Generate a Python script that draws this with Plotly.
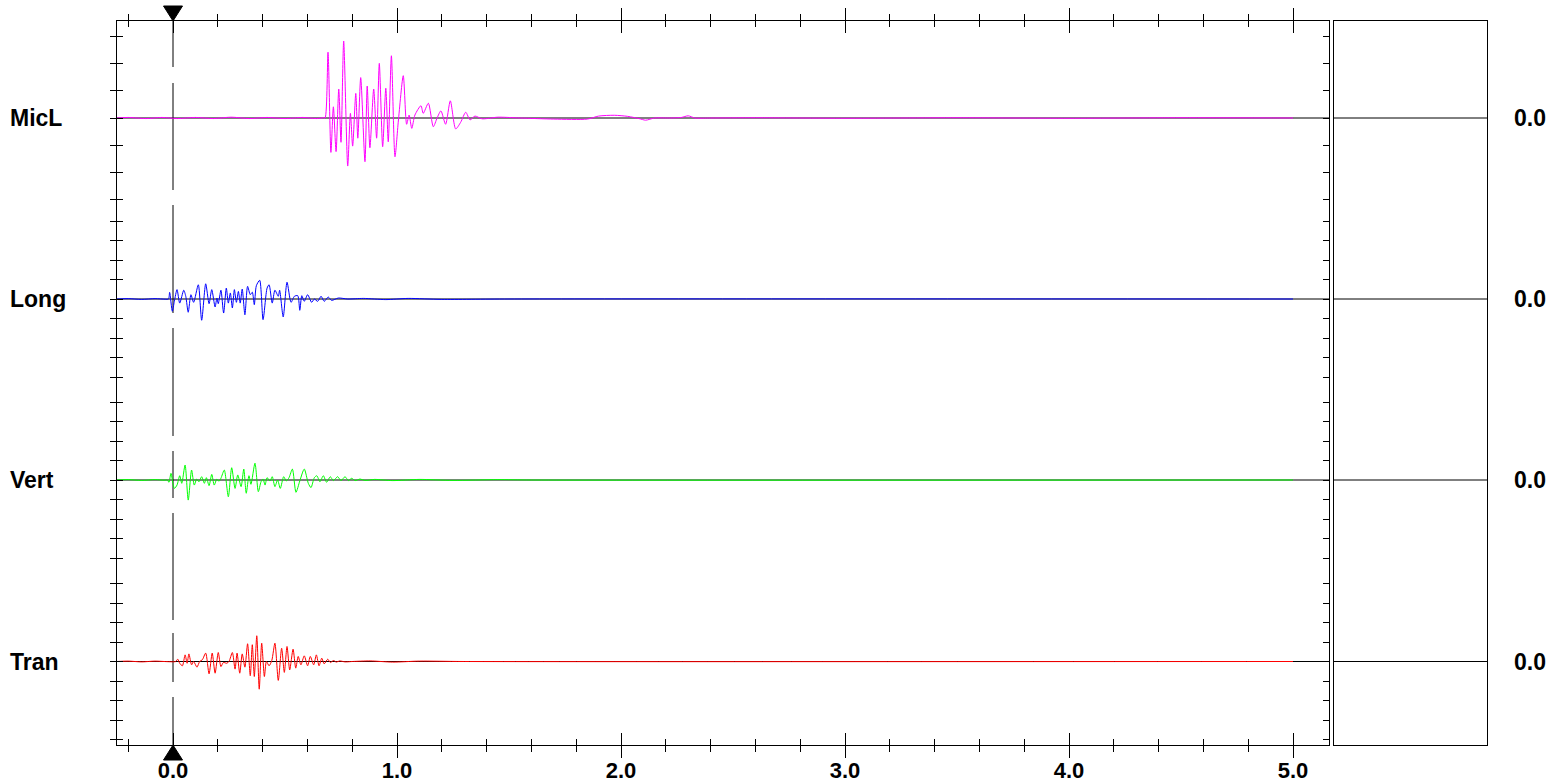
import plotly.graph_objects as go

# ---------------- data ----------------
CHANNELS = ["MicL", "Long", "Vert", "Tran"]
COLORS = ["#ff00ff", "#0000ff", "#00ff00", "#ff0000"]
ZERO_LABELS = ["0.0", "0.0", "0.0", "0.0"]
X_TICKS = [0, 1, 2, 3, 4, 5]
X_TICK_LABELS = ["0.0", "1.0", "2.0", "3.0", "4.0", "5.0"]
X_MINOR = [-0.2, 0.2, 0.4, 0.6, 0.8, 1.2, 1.4, 1.6, 1.8, 2.2, 2.4, 2.6, 2.8,
           3.2, 3.4, 3.6, 3.8, 4.2, 4.4, 4.6, 4.8]
TRIGGER_T = 0.0

# amplitudes in divisions of each channel's own scale
micl_t = [-0.25, -0.20, -0.12, -0.05, 0.02, 0.10, 0.18, 0.26, 0.34, 0.42, 0.50,
          0.58, 0.64, 0.672, 0.679, 0.692, 0.705, 0.716, 0.728, 0.740, 0.750,
          0.762, 0.780, 0.792, 0.802, 0.816, 0.825, 0.838, 0.857, 0.867, 0.879,
          0.896, 0.909, 0.921, 0.936, 0.950, 0.961, 0.975, 0.991, 1.006, 1.028,
          1.043, 1.054, 1.066, 1.080, 1.107, 1.117, 1.140, 1.162, 1.179, 1.196,
          1.217, 1.238, 1.262, 1.284, 1.307, 1.326, 1.348, 1.38, 1.45, 1.55,
          1.70, 1.85, 1.90, 1.97, 2.03, 2.08, 2.11, 2.15, 2.22, 2.27, 2.30, 2.33,
          2.40, 2.60, 3.00, 3.50, 4.00, 4.50, 5.0]
micl_a = [0.0, 0.02, -0.02, 0.02, -0.02, 0.02, -0.02, 0.03, -0.02, 0.02, -0.02,
          0.02, -0.02, 0.01, 0.0, 2.41, -1.26, 0.41, -1.23, 1.06, -0.89,
          2.82, -1.76, 0.17, -1.03, 0.90, -0.74, 1.48, -1.60, 1.17, -1.09,
          1.06, -0.74, 2.00, -1.05, 1.09, -0.87, 2.28, -1.42, -0.11, 1.55,
          -0.23, 0.11, -0.38, 0.11, 0.45, 0.17, 0.54, -0.32, 0.0, 0.26,
          -0.23, 0.63, -0.40, -0.16, 0.21, -0.07, 0.07, -0.03, 0.03, 0.0,
          -0.04, -0.04, 0.07, 0.10, 0.06, -0.02, -0.08, 0.0, 0.0, 0.02, 0.08, 0.0,
          0.0, 0.01, -0.01, 0.01, -0.01, 0.01, 0.0]

long_t = [-0.25, -0.20, -0.14, -0.08, -0.035, -0.020, -0.015, -0.003, 0.006, 0.018,
          0.030, 0.048, 0.057, 0.068, 0.080, 0.092, 0.113, 0.128, 0.146, 0.161,
          0.173, 0.188, 0.196, 0.202, 0.214, 0.226, 0.238, 0.247, 0.256, 0.265,
          0.274, 0.283, 0.292, 0.300, 0.309, 0.321, 0.333, 0.345, 0.354, 0.363,
          0.372, 0.387, 0.402, 0.420, 0.429, 0.443, 0.455, 0.470, 0.476, 0.492,
          0.509, 0.527, 0.542, 0.557, 0.566, 0.575, 0.586, 0.601, 0.619, 0.631,
          0.646, 0.661, 0.675, 0.693, 0.708, 0.738, 0.78, 0.85, 0.95, 1.05,
          1.20, 1.50, 5.0]
long_a = [0.0, 0.02, -0.02, 0.02, -0.01, 0.0, 0.34, -0.63, -0.12, 0.48,
          -0.21, 0.45, 0.14, -0.68, 0.22, -0.17, 0.73, -1.09, 0.78, -0.24,
          0.48, -0.41, 0.05, -0.24, 0.45, -0.72, 0.56, -0.21, 0.31, -0.46,
          0.48, -0.17, 0.39, -0.21, 0.51, -0.81, 0.65, 0.22, 0.35, -0.29,
          0.68, 0.96, -1.06, 0.56, 0.73, -0.21, 0.45, 0.14, 0.45, -0.92,
          0.86, -0.17, 0.14, 0.17, -0.58, 0.17, -0.12, 0.22, -0.17, 0.0,
          -0.12, 0.14, -0.12, 0.10, -0.07, 0.05, 0.0, 0.03, -0.03, 0.03,
          -0.02, 0.0, 0.0]

vert_t = [-0.25, -0.20, -0.14, -0.08, -0.04, -0.025, -0.018, -0.009, 0.006, 0.018,
          0.030, 0.039, 0.054, 0.068, 0.083, 0.095, 0.106, 0.116, 0.128, 0.140,
          0.149, 0.161, 0.173, 0.184, 0.196, 0.205, 0.214, 0.229, 0.247, 0.262,
          0.277, 0.289, 0.304, 0.316, 0.327, 0.339, 0.348, 0.366, 0.381, 0.393,
          0.402, 0.411, 0.420, 0.433, 0.443, 0.455, 0.467, 0.479, 0.494, 0.506,
          0.518, 0.533, 0.549, 0.566, 0.586, 0.604, 0.616, 0.631, 0.642, 0.656,
          0.671, 0.686, 0.702, 0.716, 0.735, 0.750, 0.768, 0.783, 0.798, 0.813,
          0.835, 0.857, 0.90, 0.98, 1.10, 1.25, 1.45, 1.60, 5.0]
vert_a = [0.0, 0.02, -0.02, 0.02, -0.01, 0.0, -0.12, 0.34, -0.43, -0.26,
          0.22, -0.17, 0.77, -1.03, 0.51, -0.26, 0.05, -0.09, 0.17, -0.17,
          0.12, -0.29, 0.29, -0.26, 0.05, -0.07, 0.09, 0.51, -0.86, 0.63,
          -0.43, 0.26, -0.34, 0.56, -0.68, 0.22, -0.22, 0.86, -0.60, -0.09,
          0.05, -0.26, 0.12, -0.05, 0.17, -0.34, 0.0, -0.43, 0.17, -0.05,
          0.12, 0.56, -0.63, -0.05, 0.56, -0.17, -0.39, 0.12, 0.22, -0.09,
          0.22, -0.12, 0.17, -0.03, 0.17, -0.03, 0.17, -0.03, 0.09, -0.03,
          0.05, -0.02, 0.03, -0.03, 0.03, -0.02, 0.02, 0.0, 0.0]

tran_t = [-0.25, -0.20, -0.14, -0.08, -0.02, 0.012, 0.021, 0.030, 0.042, 0.054,
          0.063, 0.071, 0.083, 0.092, 0.107, 0.119, 0.131, 0.146, 0.161, 0.175,
          0.188, 0.202, 0.214, 0.225, 0.240, 0.250, 0.265, 0.277, 0.286, 0.298,
          0.309, 0.321, 0.333, 0.345, 0.354, 0.363, 0.374, 0.385, 0.396, 0.408,
          0.417, 0.429, 0.441, 0.455, 0.470, 0.485, 0.497, 0.509, 0.521, 0.536,
          0.548, 0.559, 0.571, 0.586, 0.601, 0.613, 0.628, 0.640, 0.652, 0.664,
          0.675, 0.691, 0.702, 0.717, 0.729, 0.744, 0.768, 0.80, 0.88, 0.98,
          1.10, 1.30, 5.0]
tran_a = [0.0, 0.02, -0.02, 0.02, -0.01, 0.0, 0.12, -0.09, -0.22, 0.34,
          -0.09, 0.39, -0.17, 0.0, -0.29, 0.0, 0.09, 0.43, -0.63, 0.43,
          -0.60, 0.46, -0.26, -0.05, -0.09, 0.0, 0.46, -0.39, 0.43, -0.60,
          0.39, -0.29, 0.91, -0.73, 0.86, -0.77, 1.32, -1.42, 0.94, -0.77,
          0.0, -0.22, 0.05, 0.94, -0.97, 0.68, -0.56, 0.77, -0.43, 0.63,
          -0.34, 0.26, -0.17, 0.29, -0.22, 0.26, -0.17, 0.34, -0.22, 0.17,
          -0.12, 0.12, -0.05, 0.05, -0.03, 0.03, -0.02, 0.0, 0.03, -0.03,
          0.02, 0.0, 0.0]

SERIES_T = [micl_t, long_t, vert_t, tran_t]
SERIES_A = [micl_a, long_a, vert_a, tran_a]

# ---------------- layout / style ----------------
W, H = 1546, 783
ML, MR, MT, MB = 117, 59, 21, 38
PLOT_H = H - MT - MB                 # 724 px, y units == px
X_RANGE = [-0.25, 5.1607]
CH_ZERO = [627.0, 446.0, 265.0, 83.5]  # baseline of each channel (y units)
DIV_SIZE = [27.3, 19.5, 19.5, 19.5]    # size of one division (y units)
DIV_COUNT = [3, 4, 4, 4]
MAIN_DOMAIN = [0.0, 0.88467]
PANEL_DOMAIN = [0.88832, 1.0]
FONT = "Liberation Sans, Arial, sans-serif"
FS = 23
FS_TICK = 22
TRI_W, TRI_H = 19, 15

y_ticks = []
for z, d, n in zip(CH_ZERO, DIV_SIZE, DIV_COUNT):
    for k in range(-n, n + 1):
        y_ticks.append(z + k * d)

fig = go.Figure()

# baselines in main plot and side panel
for z in CH_ZERO:
    fig.add_trace(go.Scatter(x=X_RANGE, y=[z, z], mode="lines",
                             line=dict(color="black", width=1),
                             hoverinfo="skip", xaxis="x", yaxis="y"))
    fig.add_trace(go.Scatter(x=[0, 1], y=[z, z], mode="lines",
                             line=dict(color="black", width=1),
                             hoverinfo="skip", xaxis="x2", yaxis="y2"))

# trigger dashed line
fig.add_trace(go.Scatter(
    x=[TRIGGER_T, TRIGGER_T], y=[PLOT_H, 0], mode="lines",
    line=dict(color="black", width=1,
              dash="46px,16px,107px,15px,108px,15px,108px,15px,47px,15px,107px,13px,49px,15px,48px"),
    hoverinfo="skip"))

# signals
for name, col, ts, amps, z, d in zip(CHANNELS, COLORS, SERIES_T, SERIES_A, CH_ZERO, DIV_SIZE):
    fig.add_trace(go.Scatter(
        x=ts, y=[z + a * d for a in amps], mode="lines", name=name,
        line=dict(color=col, width=1, shape="spline", smoothing=0.7),
        hoverinfo="skip"))

# dummy traces so overlay axes render
fig.add_trace(go.Scatter(x=[], y=[], xaxis="x3", yaxis="y"))
fig.add_trace(go.Scatter(x=[], y=[], xaxis="x4", yaxis="y"))
fig.add_trace(go.Scatter(x=[], y=[], xaxis="x", yaxis="y3"))

axis_common = dict(showgrid=False, zeroline=False, showline=True, automargin=False,
                   linecolor="black", linewidth=1, tickcolor="black", tickwidth=1)
minor_out = dict(tickmode="array", tickvals=X_MINOR, ticks="outside",
                 ticklen=6, tickcolor="black", tickwidth=1, showgrid=False)
minor_in = dict(tickmode="array", tickvals=X_MINOR, ticks="inside",
                ticklen=6, tickcolor="black", tickwidth=1, showgrid=False)

fig.update_layout(
    template="none",
    width=W, height=H, autosize=False,
    margin=dict(l=ML, r=MR, t=MT, b=MB, pad=0, autoexpand=False),
    paper_bgcolor="white", plot_bgcolor="white",
    showlegend=False,
    font=dict(family=FONT, color="black"),
    # labelled axis: short outward ticks so labels sit close to the frame
    xaxis=dict(domain=MAIN_DOMAIN, range=X_RANGE, anchor="y",
               tickmode="array", tickvals=X_TICKS, ticktext=X_TICK_LABELS,
               ticks="outside", ticklen=6, mirror="ticks",
               tickfont=dict(family=FONT, size=FS_TICK, weight="bold", color="black"),
               minor=minor_out, **axis_common),
    # long outward major ticks
    xaxis4=dict(domain=MAIN_DOMAIN, range=X_RANGE, anchor="y", overlaying="x",
                tickmode="array", tickvals=X_TICKS, showticklabels=False,
                ticks="outside", ticklen=12, mirror="ticks", **axis_common),
    # inward ticks (major + minor)
    xaxis3=dict(domain=MAIN_DOMAIN, range=X_RANGE, anchor="y", overlaying="x",
                tickmode="array", tickvals=X_TICKS, showticklabels=False,
                ticks="inside", ticklen=12, mirror="ticks",
                minor=minor_in, **axis_common),
    yaxis=dict(domain=[0, 1], range=[0, PLOT_H], anchor="x",
               tickmode="array", tickvals=y_ticks, showticklabels=False,
               ticks="outside", ticklen=6, mirror=True, **axis_common),
    yaxis3=dict(domain=[0, 1], range=[0, PLOT_H], anchor="x", overlaying="y",
                tickmode="array", tickvals=y_ticks, showticklabels=False,
                ticks="inside", ticklen=6, mirror="ticks", **axis_common),
    xaxis2=dict(domain=PANEL_DOMAIN, range=[0, 1], anchor="y2",
                showticklabels=False, ticks="", mirror=True, **axis_common),
    yaxis2=dict(domain=[0, 1], range=[0, PLOT_H], anchor="x2",
                showticklabels=False, ticks="", mirror=True, **axis_common),
)

# trigger triangles (fixed pixel size, anchored at the trigger time)
half = TRI_W / 2
fig.add_shape(type="path", xref="x", yref="paper", xsizemode="pixel", ysizemode="pixel",
              xanchor=TRIGGER_T, yanchor=1,
              path=f"M {-half} {TRI_H} L {half} {TRI_H} L 0 0 Z",
              fillcolor="black", line=dict(color="black", width=1))
fig.add_shape(type="path", xref="x", yref="paper", xsizemode="pixel", ysizemode="pixel",
              xanchor=TRIGGER_T, yanchor=0,
              path=f"M {-half} {-TRI_H} L {half} {-TRI_H} L 0 0 Z",
              fillcolor="black", line=dict(color="black", width=1))

annotations = []
LEFT_LABEL_X = (8 - ML) / (W - ML - MR)
RIGHT_LABEL_X = (1512 - ML) / (W - ML - MR)
for name, z, zl in zip(CHANNELS, CH_ZERO, ZERO_LABELS):
    annotations.append(dict(text=name, x=LEFT_LABEL_X, xref="paper", y=z, yref="y",
                            xanchor="left", yanchor="middle", showarrow=False,
                            font=dict(family=FONT, size=FS, weight="bold", color="black")))
    annotations.append(dict(text=zl, x=RIGHT_LABEL_X, xref="paper", y=z, yref="y",
                            xanchor="left", yanchor="middle", showarrow=False,
                            font=dict(family=FONT, size=FS, weight="bold", color="black")))
fig.update_layout(annotations=annotations)

fig.write_html("out.html", config={"displayModeBar": False},
               post_script="document.body.style.margin='0';document.body.style.overflow='hidden';")
